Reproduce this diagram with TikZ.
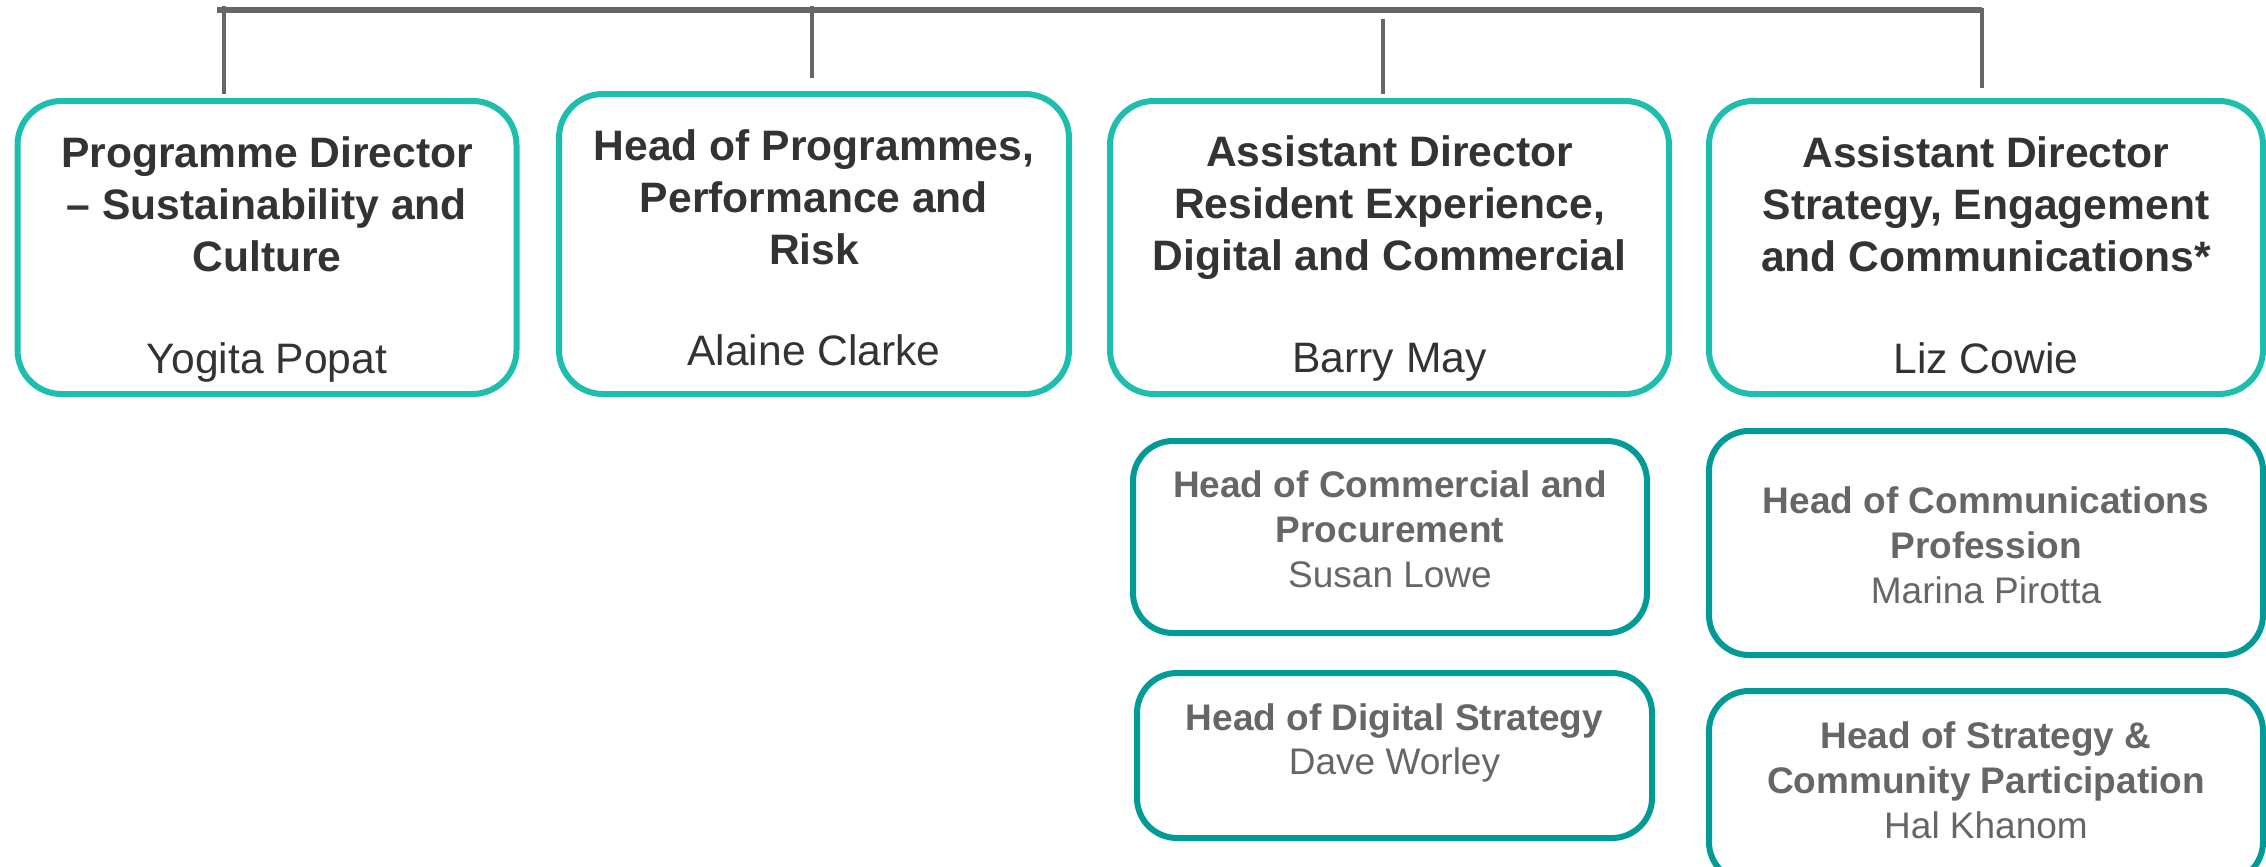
\documentclass[tikz,border=0pt]{standalone}
\usepackage{fontspec}
\setmainfont{Liberation Sans}
\definecolor{tealA}{RGB}{30,190,175}
\definecolor{tealB}{RGB}{0,155,150}
\definecolor{darktext}{RGB}{51,51,51}
\definecolor{greytext}{RGB}{102,102,102}
\definecolor{linegrey}{RGB}{102,102,102}
\tikzset{
  topbox/.style={draw=tealA, line width=3pt, rounded corners=22pt, fill=white, inner sep=0pt},
  subbox/.style={draw=tealB, line width=3pt, rounded corners=20pt, fill=white, inner sep=0pt},
  toptitle/.style={align=center, inner sep=0pt, text=darktext, font=\fontsize{21.3pt}{26pt}\selectfont\bfseries},
  topname/.style={align=center, inner sep=0pt, text=darktext, font=\fontsize{21.3pt}{26pt}\selectfont},
  subtext/.style={align=center, inner sep=0pt, text=greytext, font=\fontsize{18.5pt}{22.4pt}\selectfont},
  bar/.style={draw=linegrey, line width=3pt},
  drop/.style={draw=linegrey, line width=2.2pt}
}
\begin{document}
\begin{tikzpicture}[x=0.5pt,y=-0.5pt]
\useasboundingbox (0,0) rectangle (2266,867);
% connectors
\coordinate (hL) at (217,10);
\coordinate (hR) at (1982,10);
\coordinate (v1a) at (224,6);   \coordinate (v1b) at (224,94);
\coordinate (v2a) at (812,6);   \coordinate (v2b) at (812,78);
\coordinate (v3a) at (1383,19); \coordinate (v3b) at (1383,94);
\coordinate (v4a) at (1982,8);  \coordinate (v4b) at (1982,88);
\draw[bar] (hL) -- (hR);
\draw[drop] (v1a) -- (v1b);
\draw[drop] (v2a) -- (v2b);
\draw[drop] (v3a) -- (v3b);
\draw[drop] (v4a) -- (v4b);
% top boxes
\node[topbox, minimum width=249.5pt, minimum height=146.5pt] (b1) at (267,247.5) {};
\node[topbox, minimum width=255pt, minimum height=150pt] (b2) at (814,244) {};
\node[topbox, minimum width=279.5pt, minimum height=146.5pt] (b3) at (1389.5,247.5) {};
\node[topbox, minimum width=277pt, minimum height=146.5pt] (b4) at (1986,247.5) {};
\node[toptitle] (t1) at (267,204) {Programme Director\\– Sustainability and\\Culture};
\node[topname] (n1) at (267,362) {Yogita Popat};
\node[toptitle] (t2) at (814,197) {Head of Programmes,\\Performance and\\Risk};
\node[topname] (n2) at (814,350) {Alaine Clarke};
\node[toptitle] (t3) at (1389.5,208) {Assistant Director\\Resident Experience,\\Digital and Commercial};
\node[topname] (n3) at (1389.5,362) {Barry May};
\node[toptitle] (t4) at (1986,204) {Assistant Director\\Strategy, Engagement\\and Communications*};
\node[topname] (n4) at (1986,358) {Liz Cowie};
% sub boxes
\node[subbox, minimum width=257pt, minimum height=96pt] (b5) at (1390,537) {};
\node[subbox, minimum width=257.5pt, minimum height=82.5pt] (b6) at (1394.5,755.5) {};
\node[subbox, minimum width=277pt, minimum height=112pt] (b7) at (1986,543) {};
\node[subbox, minimum width=277pt, minimum height=95.5pt] (b8) at (1986,786.5) {};
\node[subtext] (s5) at (1390,529) {\textbf{Head of Commercial and}\\\textbf{Procurement}\\Susan Lowe};
\node[subtext] (s6) at (1394.5,743) {\textbf{Head of Digital Strategy}\\Dave Worley};
\node[subtext] (s7) at (1986,545) {\textbf{Head of Communications}\\\textbf{Profession}\\Marina Pirotta};
\node[subtext] (s8) at (1986,780) {\textbf{Head of Strategy \&}\\\textbf{Community Participation}\\Hal Khanom};
\end{tikzpicture}
\end{document}
